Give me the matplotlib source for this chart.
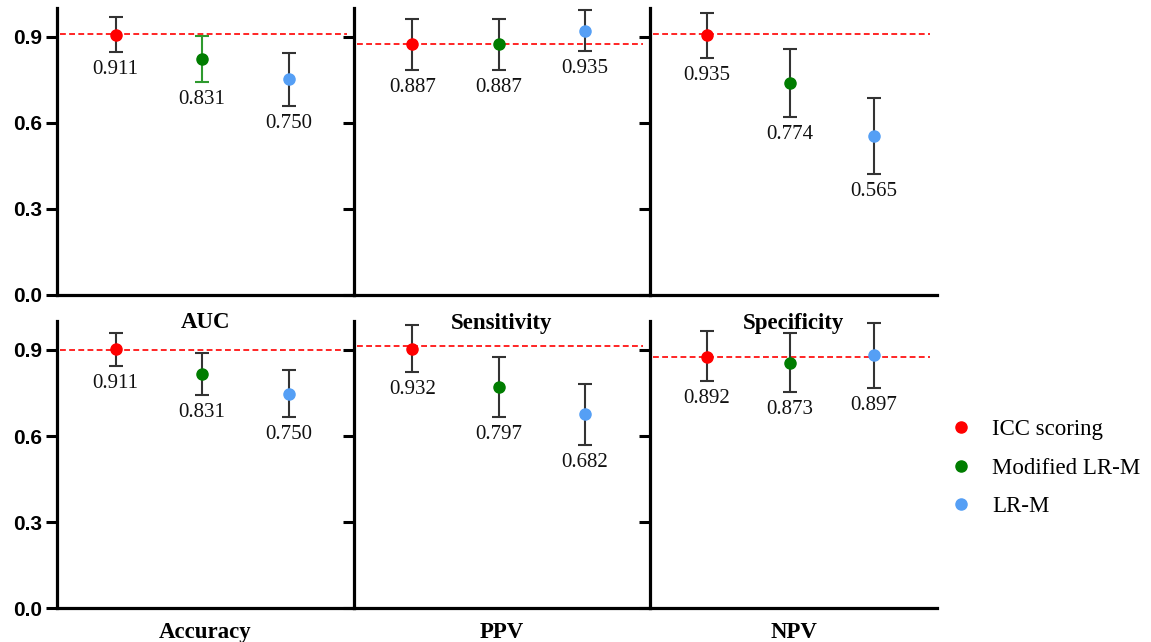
import matplotlib

matplotlib.use("Agg")
import matplotlib.pyplot as plt
from matplotlib.lines import Line2D

# metric panels, row by row
top_metrics = ["AUC", "Sensitivity", "Specificity"]
bottom_metrics = ["Accuracy", "PPV", "NPV"]
models = ["ICC scoring", "Modified LR-M", "LR-M"]
colors = ["#ff0000", "#007d00", "#559ff5"]

# point estimates as plotted, with CI bounds
est = {
    "AUC":         [0.908, 0.822, 0.752],
    "Sensitivity": [0.874, 0.874, 0.922],
    "Specificity": [0.908, 0.741, 0.555],
    "Accuracy":    [0.902, 0.816, 0.746],
    "PPV":         [0.903, 0.771, 0.676],
    "NPV":         [0.877, 0.854, 0.883],
}
lo = {
    "AUC":         [0.849, 0.742, 0.659],
    "Sensitivity": [0.784, 0.784, 0.850],
    "Specificity": [0.826, 0.622, 0.423],
    "Accuracy":    [0.845, 0.742, 0.666],
    "PPV":         [0.823, 0.666, 0.570],
    "NPV":         [0.791, 0.753, 0.768],
}
hi = {
    "AUC":         [0.971, 0.904, 0.844],
    "Sensitivity": [0.964, 0.964, 0.995],
    "Specificity": [0.985, 0.857, 0.688],
    "Accuracy":    [0.958, 0.891, 0.829],
    "PPV":         [0.987, 0.877, 0.781],
    "NPV":         [0.965, 0.958, 0.993],
}
# printed values under each point
labels = {
    "AUC":         ["0.911", "0.831", "0.750"],
    "Sensitivity": ["0.887", "0.887", "0.935"],
    "Specificity": ["0.935", "0.774", "0.565"],
    "Accuracy":    ["0.911", "0.831", "0.750"],
    "PPV":         ["0.932", "0.797", "0.682"],
    "NPV":         ["0.892", "0.873", "0.897"],
}
# red dashed reference level per panel
ref = {"AUC": 0.909, "Sensitivity": 0.874, "Specificity": 0.909,
       "Accuracy": 0.900, "PPV": 0.915, "NPV": 0.875}
# CI bar colour (only the Modified LR-M bar in the AUC panel is green)
ci_color = {m: ["#333333"] * 3 for m in est}
ci_color["AUC"] = ["#333333", "#2e9a2e", "#333333"]

SERIF = ["Liberation Serif", "DejaVu Serif"]
SANS = ["Liberation Sans", "DejaVu Sans"]

W, H = 1151, 642
fig = plt.figure(figsize=(W / 100, H / 100), dpi=100)

cols = [(57, 297), (354, 296), (650, 287)]          # left px, width px
rows = [(295, 286.7, top_metrics, 28), (608.3, 287, bottom_metrics, 24)]

for base, height, metrics, lab_off in rows:
    for j, (m, (x0, w)) in enumerate(zip(metrics, cols)):
        ax = fig.add_axes([x0 / W, (H - base) / H, w / W, height / H])
        ax.patch.set_visible(False)
        ax.set_xlim(0.324, 3.754)
        ax.set_ylim(0, 1.0)
        for s in ("top", "right"):
            ax.spines[s].set_visible(False)
        for s in ("left", "bottom"):
            ax.spines[s].set_linewidth(2.3)
        ax.set_xticks([])
        ax.set_yticks([0.0, 0.3, 0.6, 0.9])
        ax.tick_params(axis="y", length=8, width=2.2, pad=3)
        if j == 0:
            ax.set_yticklabels(["0.0", "0.3", "0.6", "0.9"], fontfamily=SANS,
                               fontweight="bold", fontsize=15)
        else:
            ax.set_yticklabels([])

        ax.axhline(ref[m], xmin=0.01, xmax=0.975, color="#ff0000", lw=1.2,
                   ls=(0, (3.5, 2)), zorder=1)
        for k in range(3):
            x = k + 1
            y = est[m][k]
            ax.errorbar([x], [y], yerr=[[y - lo[m][k]], [hi[m][k] - y]], fmt="none",
                        ecolor=ci_color[m][k], elinewidth=1.5, capsize=5,
                        capthick=1.5, zorder=2)
            ax.plot([x], [y], "o", color=colors[k], ms=8, zorder=3)
            ax.annotate(labels[m][k], (x, lo[m][k]), xytext=(0, -8),
                        textcoords="offset pixels", ha="center", va="top",
                        fontfamily=SERIF, fontsize=15, color="#111111")
        ax.annotate(m, (0.5, 0), xycoords="axes fraction", xytext=(0, -lab_off),
                    textcoords="offset pixels", ha="center", va="center",
                    fontfamily=SERIF, fontweight="bold", fontsize=16.5,
                    annotation_clip=False, zorder=5)

handles = [Line2D([], [], ls="none", marker="o", ms=8, color=c) for c in colors]
fig.legend(handles, models, loc="center left", bbox_to_anchor=(950 / W, (H - 468) / H),
           frameon=False, borderpad=0, borderaxespad=0, handlelength=1.0,
           handletextpad=0.85, labelspacing=0.75, prop={"family": SERIF, "size": 16.5})

fig.savefig("out.png", dpi=100)
